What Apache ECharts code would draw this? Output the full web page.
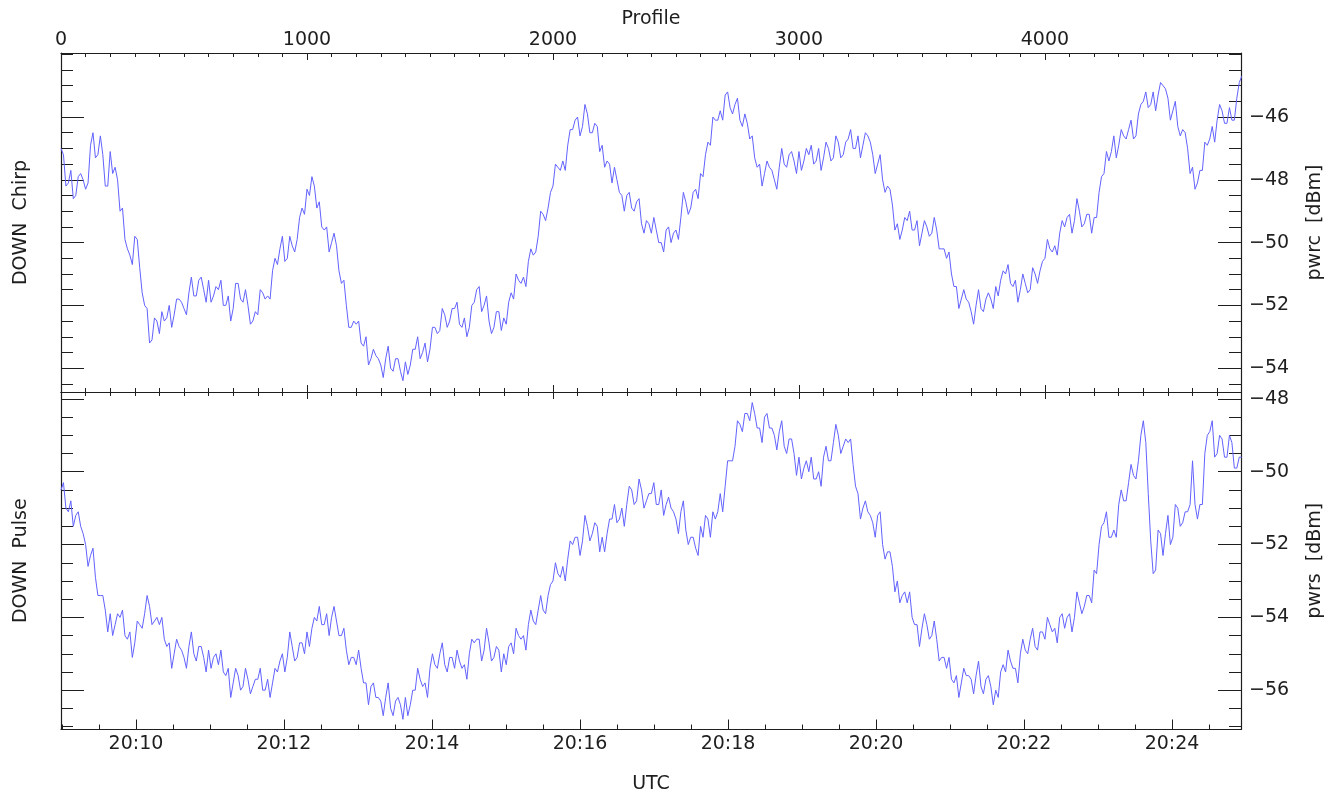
<!DOCTYPE html>
<html><head><meta charset="utf-8">
<script src="https://cdn.jsdelivr.net/npm/echarts@6/dist/echarts.min.js"></script>
<style>html,body{margin:0;padding:0;background:#fff}#c{width:1335px;height:795px}</style>
</head><body><div id="c"></div>
<script>
// ---- data (one sample every profileStep profiles) ----
const profileStep = 10;
const chirp = [
-47.0,-47.2,-48.2,-48.1,-47.7,-48.6,-48.5,-47.9,-47.8,-48.0,-48.3,-48.1,-46.9,-46.5,-47.3,-47.2,-46.6,-47.2,-48.2,-48.2,
-47.1,-47.8,-47.6,-48.0,-49.0,-48.9,-49.9,-50.2,-50.4,-50.7,-49.8,-49.9,-50.8,-51.6,-52.0,-52.1,-53.2,-53.1,-52.4,-52.5,
-52.9,-52.2,-52.5,-52.4,-52.0,-52.7,-52.3,-51.8,-51.8,-51.9,-52.1,-52.3,-51.6,-51.1,-51.7,-51.7,-51.2,-51.1,-51.5,-51.9,
-51.2,-51.9,-51.7,-51.4,-51.5,-51.2,-52.0,-52.0,-51.7,-52.5,-52.1,-51.3,-51.3,-51.8,-51.9,-51.5,-52.0,-52.6,-52.5,-52.2,
-52.3,-51.5,-51.6,-51.8,-51.7,-51.8,-50.9,-50.5,-50.7,-50.2,-49.8,-50.6,-50.5,-49.8,-50.1,-50.3,-49.9,-49.2,-48.9,-49.1,
-48.3,-48.5,-47.9,-48.2,-48.9,-48.7,-49.5,-49.6,-49.5,-50.3,-50.0,-49.7,-50.1,-50.9,-51.3,-51.2,-52.0,-52.7,-52.7,-52.5,
-52.6,-52.5,-53.2,-53.3,-53.0,-53.9,-53.7,-53.4,-53.6,-53.7,-53.9,-54.3,-53.7,-53.3,-54.0,-54.1,-53.7,-53.7,-54.1,-54.4,
-53.8,-54.2,-53.9,-53.4,-53.4,-53.0,-53.7,-53.5,-53.2,-53.8,-53.4,-52.7,-52.7,-52.9,-52.8,-52.1,-52.3,-52.7,-52.5,-52.1,
-52.1,-51.9,-52.6,-52.7,-52.4,-53.0,-52.7,-52.0,-51.9,-51.5,-51.4,-52.2,-52.0,-51.7,-52.5,-52.9,-52.7,-52.2,-52.2,-52.8,
-52.4,-52.6,-51.9,-51.6,-51.8,-51.0,-51.2,-51.3,-51.1,-51.4,-50.6,-50.2,-50.4,-50.3,-49.8,-49.0,-49.1,-49.3,-48.9,-48.4,
-48.2,-47.5,-47.6,-47.7,-47.4,-47.7,-46.9,-46.4,-46.4,-46.1,-46.0,-46.6,-46.3,-45.6,-45.9,-46.5,-46.5,-46.2,-46.3,-47.1,
-46.9,-47.6,-47.4,-47.5,-48.1,-47.6,-48.0,-48.4,-48.5,-49.0,-48.5,-48.4,-48.9,-49.0,-48.7,-48.6,-49.4,-49.7,-49.3,-49.4,
-49.7,-49.2,-49.6,-50.0,-50.0,-50.3,-49.6,-49.5,-50.0,-49.7,-49.6,-49.9,-49.2,-48.4,-48.7,-49.1,-48.9,-48.4,-48.3,-48.6,
-47.8,-47.9,-47.2,-46.8,-46.9,-46.0,-46.1,-46.1,-45.8,-46.1,-45.3,-45.2,-45.7,-45.9,-45.6,-45.4,-46.1,-46.3,-45.9,-46.2,
-46.7,-46.6,-47.3,-47.6,-47.5,-48.2,-47.8,-47.4,-47.6,-47.7,-48.0,-48.3,-47.6,-47.0,-47.5,-47.6,-47.2,-47.1,-47.4,-47.8,
-47.1,-47.7,-47.4,-47.0,-47.2,-46.9,-47.5,-47.4,-47.0,-47.7,-47.3,-46.8,-47.0,-47.4,-47.3,-46.6,-46.8,-47.3,-47.2,-46.8,
-46.7,-46.4,-47.0,-47.0,-46.6,-47.3,-46.9,-46.5,-46.6,-46.8,-47.2,-47.8,-47.5,-47.2,-48.0,-48.4,-48.2,-48.3,-48.8,-49.6,
-49.4,-49.9,-49.6,-49.2,-49.3,-49.0,-49.6,-49.6,-49.3,-50.1,-49.7,-49.3,-49.5,-49.8,-49.7,-49.2,-49.6,-50.2,-50.2,-50.2,
-50.5,-50.3,-51.0,-51.4,-51.4,-52.1,-51.8,-51.5,-51.8,-51.9,-52.2,-52.6,-52.0,-51.5,-52.1,-52.2,-51.8,-51.6,-51.8,-52.1,
-51.4,-51.7,-51.2,-50.9,-51.0,-50.7,-51.3,-51.4,-51.2,-51.9,-51.5,-51.0,-51.3,-51.6,-51.5,-50.8,-51.0,-51.3,-50.9,-50.6,
-50.5,-49.9,-50.2,-50.3,-50.1,-50.4,-49.7,-49.3,-49.5,-49.2,-49.1,-49.7,-49.3,-48.6,-49.0,-49.5,-49.4,-49.1,-49.1,-49.7,
-49.2,-49.2,-48.4,-47.9,-47.8,-47.1,-47.4,-47.1,-46.6,-47.3,-46.9,-46.4,-46.6,-46.7,-46.4,-46.1,-46.7,-46.6,-45.9,-45.6,
-45.5,-45.2,-45.7,-45.6,-45.2,-45.8,-45.3,-44.9,-45.0,-45.1,-45.4,-46.1,-45.8,-45.5,-46.3,-46.6,-46.4,-46.5,-47.0,-47.8,
-47.6,-48.3,-48.1,-47.7,-47.7,-46.8,-46.9,-46.7,-46.3,-46.8,-46.1,-45.6,-45.8,-46.2,-46.2,-45.7,-46.1,-46.1,-45.4,-44.9,
-44.7
];
const pulse = [
-50.5,-50.3,-51.0,-51.1,-50.8,-51.5,-51.2,-51.1,-51.5,-51.7,-52.0,-52.6,-52.3,-52.1,-52.9,-53.4,-53.4,-53.4,-53.8,-54.4,
-53.9,-54.5,-54.2,-53.9,-54.0,-53.8,-54.5,-54.6,-54.4,-55.1,-54.7,-54.1,-54.2,-54.3,-53.9,-53.4,-53.7,-54.2,-54.1,-54.0,
-54.2,-54.0,-54.6,-54.8,-54.7,-55.4,-55.0,-54.6,-54.8,-54.9,-55.1,-55.4,-54.8,-54.4,-55.0,-55.2,-54.8,-54.8,-55.1,-55.5,
-54.9,-55.4,-55.1,-55.0,-55.3,-54.9,-55.5,-55.6,-55.4,-56.2,-55.8,-55.4,-55.6,-56.0,-55.9,-55.4,-55.7,-56.1,-55.9,-55.7,
-55.7,-55.4,-56.0,-56.0,-55.7,-56.2,-55.8,-55.4,-55.5,-55.2,-55.0,-55.5,-55.1,-54.4,-54.8,-55.2,-55.1,-54.7,-54.7,-55.0,
-54.4,-54.8,-54.3,-54.0,-54.1,-53.7,-54.2,-54.2,-53.9,-54.5,-54.0,-53.7,-54.1,-54.5,-54.5,-54.3,-54.9,-55.3,-55.1,-55.1,
-55.3,-54.9,-55.4,-55.8,-55.8,-56.4,-55.9,-55.8,-56.2,-56.2,-56.3,-56.7,-56.2,-55.8,-56.5,-56.7,-56.3,-56.2,-56.4,-56.8,
-56.2,-56.7,-56.4,-56.0,-56.0,-55.4,-55.7,-55.9,-55.8,-56.2,-55.4,-55.0,-55.3,-55.4,-55.0,-54.7,-55.3,-55.5,-55.1,-55.1,
-55.4,-54.9,-55.2,-55.4,-55.3,-55.7,-55.0,-54.6,-54.7,-54.6,-54.6,-55.2,-54.9,-54.3,-54.7,-55.2,-55.1,-54.8,-54.9,-55.5,
-55.0,-55.3,-54.8,-54.7,-55.0,-54.3,-54.5,-54.6,-54.5,-54.9,-54.2,-53.8,-54.1,-54.2,-53.8,-53.4,-53.8,-53.9,-53.4,-53.1,
-53.0,-52.5,-52.8,-52.9,-52.6,-53.0,-52.4,-51.9,-52.0,-51.8,-51.8,-52.3,-51.9,-51.2,-51.5,-51.9,-51.7,-51.4,-51.5,-52.2,
-51.8,-52.2,-51.7,-51.3,-51.3,-50.9,-51.4,-51.3,-51.0,-51.5,-50.9,-50.4,-50.5,-50.9,-50.8,-50.2,-50.5,-51.0,-50.8,-50.6,
-50.6,-50.3,-50.9,-50.9,-50.5,-51.2,-50.9,-50.7,-51.0,-51.1,-51.3,-51.7,-51.1,-50.8,-51.6,-52.0,-51.8,-51.8,-52.1,-52.3,
-51.5,-51.8,-51.2,-51.3,-51.8,-51.1,-51.3,-51.1,-50.6,-51.1,-50.4,-49.7,-49.7,-49.7,-49.3,-48.6,-48.7,-48.9,-48.4,-48.4,
-48.6,-48.1,-48.4,-48.8,-48.8,-49.2,-48.5,-48.4,-48.8,-48.8,-49.0,-49.4,-48.9,-48.6,-49.3,-49.5,-49.1,-49.1,-49.5,-50.1,
-49.6,-50.2,-49.9,-49.7,-50.0,-49.6,-50.2,-50.2,-50.0,-50.4,-49.6,-49.3,-49.7,-49.7,-49.2,-48.7,-49.0,-49.5,-49.3,-49.1,
-49.2,-49.1,-49.8,-50.4,-50.6,-51.3,-51.0,-50.8,-51.1,-51.2,-51.4,-51.8,-51.2,-51.1,-52.0,-52.4,-52.2,-52.2,-52.6,-53.3,
-53.0,-53.6,-53.4,-53.3,-53.6,-53.3,-54.0,-54.2,-54.2,-54.8,-54.3,-53.9,-54.2,-54.6,-54.5,-54.1,-54.6,-55.2,-55.1,-55.1,
-55.4,-55.1,-55.7,-55.8,-55.6,-56.2,-55.8,-55.4,-55.6,-55.6,-55.7,-56.1,-55.6,-55.2,-55.9,-56.1,-55.7,-55.6,-55.9,-56.4,
-56.0,-56.2,-55.5,-55.3,-55.5,-54.9,-55.2,-55.4,-55.4,-55.8,-55.0,-54.6,-54.9,-55.0,-54.6,-54.3,-54.8,-54.9,-54.4,-54.4,
-54.6,-54.0,-54.2,-54.4,-54.3,-54.7,-54.0,-53.9,-54.3,-54.0,-53.9,-54.4,-54.0,-53.3,-53.6,-53.9,-53.7,-53.4,-53.4,-53.6,
-52.7,-52.8,-52.0,-51.5,-51.4,-51.1,-51.8,-51.8,-51.6,-51.8,-50.9,-50.5,-50.8,-50.8,-50.3,-49.8,-50.1,-50.2,-49.7,-49.0,
-48.6,-49.2,-50.6,-51.9,-52.8,-52.7,-51.6,-51.7,-52.3,-51.7,-51.2,-52.0,-51.8,-50.9,-51.0,-51.5,-51.4,-51.1,-51.1,-50.9,
-49.7,-50.9,-51.3,-50.9,-50.9,-49.5,-49.0,-48.9,-48.6,-49.6,-49.5,-49.0,-49.1,-49.6,-49.6,-49.0,-49.2,-49.9,-49.9,-49.6,
-49.6
];
const profileTickLabels = [0, 1000, 2000, 3000, 4000];
const utcTickLabels = ['20:10','20:12','20:14','20:16','20:18','20:20','20:22','20:24'];
const chirpTicks = [-54, -52, -50, -48, -46];
const pulseTicks = [-56, -54, -52, -50, -48];

// ---- ranges ----
const profileMax = 4797;
const utcMin = 539.2, utcMax = 1495.9;      // seconds after 20:00:00
const chirpMin = -54.76, chirpMax = -43.96;
const pulseMin = -57.08, pulseMax = -47.81;

// ---- helpers ----
const FONT = 'DejaVu Sans';
const TXT = '#1e1e1e';
const LINE = '#1e1e1e';
function steps(a, b, s) { const r = []; for (let v = a; v <= b + 1e-9; v += s) r.push(Math.round(v * 1000) / 1000); return r; }
const profileMinor = steps(0, profileMax, 100);
const utcMajor = utcTickLabels.map(t => { const p = t.split(':'); return (+p[0] - 20) * 3600 + (+p[1]) * 60; });
const utcMinor = steps(540, utcMax, 30);
const chirpMinor = steps(-54.5, -44, 0.5);
const pulseMinor = steps(-57, -48, 0.5);
const minus = v => (v < 0 ? '\u2212' : '') + Math.abs(v);

function ax(grid, pos, min, max, ticks, len, opts) {
  return Object.assign({
    type: 'value', gridIndex: grid, position: pos, min: min, max: max,
    axisLine: { show: false, onZero: false, lineStyle: { color: LINE, width: 1.2 } },
    axisTick: { show: true, inside: true, length: len, customValues: ticks, lineStyle: { color: LINE, width: 1 } },
    axisLabel: { show: false },
    splitLine: { show: false }
  }, opts || {});
}
const shownLine = { show: true, onZero: false, lineStyle: { color: LINE, width: 1.2 } };
const lblStyle = { color: TXT, fontFamily: FONT, fontSize: 19 };
const nameStyle = { color: TXT, fontFamily: FONT, fontSize: 19 };

const option = {
  animation: false,
  backgroundColor: '#fff',
  grid: [
    { left: 61, right: 94, top: 53, height: 339 },
    { left: 61, right: 94, top: 392, height: 337.5 }
  ],
  xAxis: [
    // 0: Profile axis (top of upper panel) - carries the upper series
    ax(0, 'top', 0, profileMax, profileTickLabels, 7, {
      axisLine: shownLine,
      axisLabel: Object.assign({ show: true, margin: 3, customValues: profileTickLabels, formatter: v => String(v) }, lblStyle),
      name: 'Profile', nameLocation: 'middle', nameGap: 24, nameTextStyle: nameStyle
    }),
    ax(0, 'top', 0, profileMax, profileMinor, 4),
    ax(0, 'bottom', 0, profileMax, profileTickLabels, 7, { axisLine: shownLine }),
    ax(0, 'bottom', 0, profileMax, profileMinor, 4),
    // 4: profile axis of lower panel (top edge) - carries the lower series
    ax(1, 'top', 0, profileMax, profileTickLabels, 7, { axisLine: shownLine }),
    ax(1, 'top', 0, profileMax, profileMinor, 4),
    // 6: UTC axis
    ax(1, 'bottom', utcMin, utcMax, utcMajor, 10, {
      axisLine: shownLine,
      axisLabel: Object.assign({ show: true, margin: 5, customValues: utcMajor,
        formatter: v => { const m = Math.round(v / 60); return '20:' + String(m).padStart(2, '0'); } }, lblStyle),
      name: 'UTC', nameLocation: 'middle', nameGap: 45, nameTextStyle: nameStyle
    }),
    ax(1, 'bottom', utcMin, utcMax, utcMinor, 5)
  ],
  yAxis: [
    ax(0, 'right', chirpMin, chirpMax, chirpTicks, 23, {
      axisLine: shownLine,
      axisLabel: Object.assign({ show: true, margin: 8, customValues: chirpTicks, formatter: minus }, lblStyle),
      name: 'pwrc  [dBm]', nameLocation: 'middle', nameRotate: 90, nameGap: 65, nameTextStyle: nameStyle
    }),
    ax(0, 'right', chirpMin, chirpMax, chirpMinor, 12),
    ax(0, 'left', chirpMin, chirpMax, chirpTicks, 23, {
      axisLine: shownLine,
      name: 'DOWN  Chirp', nameLocation: 'middle', nameRotate: 90, nameGap: 30, nameTextStyle: nameStyle
    }),
    ax(0, 'left', chirpMin, chirpMax, chirpMinor, 12),
    ax(1, 'right', pulseMin, pulseMax, pulseTicks, 23, {
      axisLine: shownLine,
      axisLabel: Object.assign({ show: true, margin: 8, customValues: pulseTicks, formatter: minus }, lblStyle),
      name: 'pwrs  [dBm]', nameLocation: 'middle', nameRotate: 90, nameGap: 65, nameTextStyle: nameStyle
    }),
    ax(1, 'right', pulseMin, pulseMax, pulseMinor, 12),
    ax(1, 'left', pulseMin, pulseMax, pulseTicks, 23, {
      axisLine: shownLine,
      name: 'DOWN  Pulse', nameLocation: 'middle', nameRotate: 90, nameGap: 30, nameTextStyle: nameStyle
    }),
    ax(1, 'left', pulseMin, pulseMax, pulseMinor, 12)
  ],
  series: [
    { name: 'pwrc', type: 'line', xAxisIndex: 0, yAxisIndex: 0, showSymbol: false, clip: true,
      lineStyle: { color: '#6262ff', width: 1 }, itemStyle: { color: '#6262ff' },
      data: chirp.map((v, i) => [i * profileStep, v]) },
    { name: 'pwrs', type: 'line', xAxisIndex: 4, yAxisIndex: 4, showSymbol: false, clip: true,
      lineStyle: { color: '#6262ff', width: 1 }, itemStyle: { color: '#6262ff' },
      data: pulse.map((v, i) => [i * profileStep, v]) }
  ]
};
const chart = echarts.init(document.getElementById('c'), null, { renderer: 'canvas' });
chart.setOption(option);
</script></body></html>
